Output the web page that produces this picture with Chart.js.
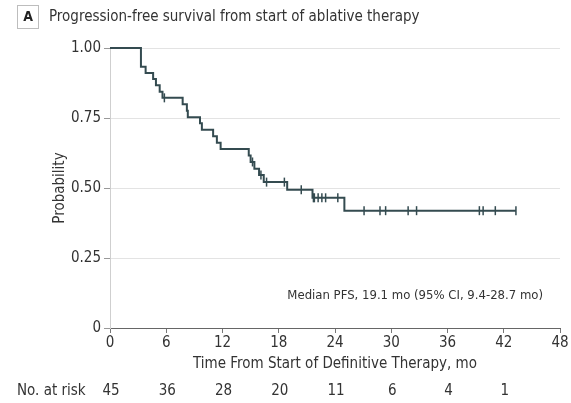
<!DOCTYPE html>
<html>
<head>
<meta charset="utf-8">
<script src="https://cdn.jsdelivr.net/npm/chart.js@4"></script>
<style>
  html, body { margin: 0; padding: 0; background: #fff; }
</style>
</head>
<body>
<canvas id="myChart" width="571" height="403"></canvas>
<script>
// Kaplan-Meier steps (time in months, survival after the step)
const stepTimes = [0, 3.3, 3.8, 4.6, 4.9, 5.3, 5.6, 7.75, 8.2, 8.3, 9.6, 9.8, 11.0, 11.4, 11.8,
  14.8, 15.0, 15.4, 15.9, 16.4, 18.9, 21.6, 25.0, 43.3];
const stepSurvival = [1, 0.933, 0.911, 0.889, 0.867, 0.844, 0.822, 0.799, 0.776, 0.753, 0.731, 0.708,
  0.685, 0.662, 0.639, 0.616, 0.593, 0.569, 0.546, 0.521, 0.494, 0.465, 0.419, 0.419];
// censored observations (tick marks)
const censorTimes = [5.8, 15.2, 16.1, 16.7, 18.6, 20.4, 21.7, 21.8, 22.2, 22.6, 23.0, 24.3,
  27.1, 28.8, 29.4, 31.8, 32.7, 39.4, 39.8, 41.1, 43.3];
// number at risk table
const riskTimes = [0, 6, 12, 18, 24, 30, 36, 42];
const riskCounts = [45, 36, 28, 20, 11, 6, 4, 1];

const lineColor = "#344b50";
const textColor = "#333";
const fontFamily = "'Liberation Sans Narrow', 'DejaVu Sans Condensed', sans-serif";

function survivalAt(t) {
  let s = 1;
  for (let i = 0; i < stepTimes.length; i++) {
    if (stepTimes[i] <= t) s = stepSurvival[i];
  }
  return s;
}

const kmPoints = stepTimes.map((t, i) => ({ x: t, y: stepSurvival[i] }));
const censorPoints = censorTimes.map((t) => ({ x: t, y: survivalAt(t) }));

Chart.defaults.font.family = fontFamily;
Chart.defaults.color = textColor;

const textPlugin = {
  id: "texts",
  afterDraw(chart) {
    const ctx = chart.ctx;
    const xs = chart.scales.x;
    const ys = chart.scales.y;
    ctx.save();

    // panel label box
    ctx.strokeStyle = "#bdbdbd";
    ctx.lineWidth = 1;
    ctx.strokeRect(17.5, 5.5, 21, 23);
    ctx.fillStyle = "#222";
    ctx.font = "bold 14px " + fontFamily;
    ctx.textAlign = "center";
    ctx.textBaseline = "middle";
    ctx.fillText("A", 28, 17.5);

    // title
    ctx.fillStyle = textColor;
    ctx.font = "15px " + fontFamily;
    ctx.textAlign = "left";
    ctx.fillText("Progression-free survival from start of ablative therapy", 49, 17);

    // y axis title
    ctx.save();
    ctx.translate(60, ys.getPixelForValue(0.5));
    ctx.rotate(-Math.PI / 2);
    ctx.textAlign = "center";
    ctx.font = "15px " + fontFamily;
    ctx.fillText("Probability", 0, 0);
    ctx.restore();

    // x axis title
    ctx.textAlign = "center";
    ctx.font = "15px " + fontFamily;
    ctx.fillText("Time From Start of Definitive Therapy, mo", (xs.left + xs.right) / 2, 364);

    // median note
    ctx.textAlign = "right";
    ctx.font = "13px " + fontFamily;
    ctx.fillText("Median PFS, 19.1 mo (95% CI, 9.4-28.7 mo)", 543, ys.getPixelForValue(0.114));

    // number at risk
    ctx.textAlign = "left";
    ctx.font = "15px " + fontFamily;
    ctx.fillText("No. at risk", 17, 391);
    ctx.textAlign = "center";
    riskTimes.forEach((t, i) => {
      ctx.fillText(String(riskCounts[i]), xs.getPixelForValue(t) + 1, 391);
    });
    ctx.restore();
  },
};

new Chart(document.getElementById("myChart"), {
  type: "line",
  data: {
    datasets: [
      {
        label: "PFS",
        data: kmPoints,
        stepped: true,
        borderColor: lineColor,
        borderWidth: 2,
        pointRadius: 0,
        fill: false,
        clip: false,
      },
      {
        label: "Censored",
        data: censorPoints,
        showLine: false,
        pointStyle: "line",
        rotation: 90,
        pointRadius: 4.5,
        borderColor: lineColor,
        borderWidth: 1.5,
        clip: false,
      },
    ],
  },
  options: {
    responsive: false,
    animation: false,
    devicePixelRatio: 1,
    layout: { padding: { top: 48, right: 11, left: 0, bottom: 0 } },
    plugins: {
      legend: { display: false },
      tooltip: { enabled: false },
    },
    scales: {
      x: {
        type: "linear",
        min: 0,
        max: 48,
        ticks: { stepSize: 6, font: { size: 15 }, color: textColor, padding: 1, maxRotation: 0 },
        grid: { drawOnChartArea: false, tickLength: 5, tickColor: "#777" },
        border: { color: "#666", width: 1 },
        afterFit: (s) => { s.height = 75; },
      },
      y: {
        min: 0,
        max: 1,
        ticks: {
          stepSize: 0.25,
          font: { size: 15 },
          color: textColor,
          padding: 3,
          callback: (v) => (v === 0 ? "0" : v.toFixed(2)),
        },
        grid: {
          color: (c) => (c.tick && c.tick.value === 0 ? "rgba(0,0,0,0)" : "#e3e3e3"),
          tickColor: "#999",
          tickLength: 6,
        },
        border: { color: "#cfcfcf", width: 1 },
        afterFit: (s) => { s.width = 110; },
      },
    },
  },
  plugins: [textPlugin],
});
</script>
</body>
</html>
